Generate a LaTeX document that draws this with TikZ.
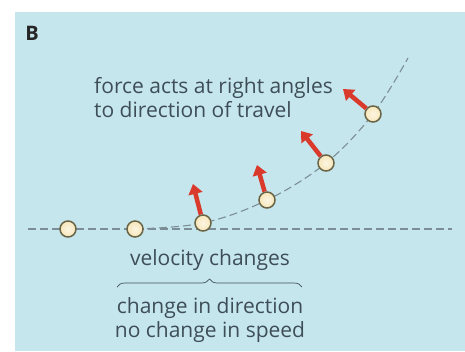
\documentclass[tikz,border=0pt]{standalone}
\usepackage{fontspec}
\setmainfont{Open Sans}
\usetikzlibrary{arrows.meta, decorations.pathreplacing, positioning}
\definecolor{panelblue}{HTML}{C6E6EE}
\definecolor{trackgrey}{HTML}{7B8E96}
\definecolor{ballrim}{HTML}{6A6547}
\definecolor{ballfill}{HTML}{F7E6B8}
\definecolor{forcered}{HTML}{D93A2B}
\definecolor{textgrey}{HTML}{3E4E57}
\tikzstyle{ball} = [
    circle,
    minimum size=16pt,
    inner sep=0pt,
    draw=ballrim,
    line width=1.5pt,
    inner color=white!60!ballfill,
    outer color=ballfill
]
\tikzstyle{track} = [
    draw=trackgrey,
    line width=1.1pt,
    dash pattern=on 8pt off 4pt
]
\tikzstyle{force} = [
    draw=forcered,
    line width=4.5pt,
    -{Triangle[length=10pt,width=14pt]}
]
\tikzstyle{label} = [
    text=textgrey,
    inner sep=0pt,
    font=\fontsize{21}{24}\selectfont
]
\tikzstyle{bracket} = [
    draw=textgrey,
    line width=0.7pt,
    decorate,
    decoration={brace, amplitude=8pt}
]

\begin{document}
\begin{tikzpicture}[x=1pt, y=-1pt]

\useasboundingbox (0,0) rectangle (465,351);
\fill[white] (0,0) rectangle (465,351);
\fill[panelblue] (15,12) rectangle (465,351);

\node (panel) [text=black!85, font=\fontsize{20}{20}\selectfont\bfseries] at (32,33) {B};

% path of the ball
\coordinate (p1) at (68,229);
\coordinate (p2) at (135,229);
\coordinate (p3) at (203,223);
\coordinate (p4) at (267,200);
\coordinate (p5) at (326,163);
\coordinate (p6) at (373,114);
\coordinate (lineL) at (28,229);
\coordinate (lineR) at (452,229);
\coordinate (curveEnd) at (408,58);

\draw [track] (lineL) -- (lineR);
\draw [track] plot [smooth, tension=0.6] coordinates {(p2) (p3) (p4) (p5) (p6) (curveEnd)};

\node (b1) [ball] at (p1) {};
\node (b2) [ball] at (p2) {};
\node (b3) [ball] at (p3) {};
\node (b4) [ball] at (p4) {};
\node (b5) [ball] at (p5) {};
\node (b6) [ball] at (p6) {};

% forces
\coordinate (f3) at (193,184);
\coordinate (f4) at (257,165);
\coordinate (f5) at (301,131);
\coordinate (f6) at (343,89);

\draw [force] (b3) -- (f3);
\draw [force] (b4) -- (f4);
\draw [force] (b5) -- (f5);
\draw [force] (b6) -- (f6);

\node (forcetext) [label, align=left, anchor=north west] at (94,77)
{force acts at right angles\\to direction of travel};

\node (velocity) [label, anchor=base] at (210,265) {velocity changes};

\coordinate (braceL) at (117,287);
\coordinate (braceR) at (302,287);
\draw [bracket] (braceL) -- (braceR);

\node (change) [label, align=center, anchor=north] at (210,297)
{change in direction\\no change in speed};

\end{tikzpicture}
\end{document}
